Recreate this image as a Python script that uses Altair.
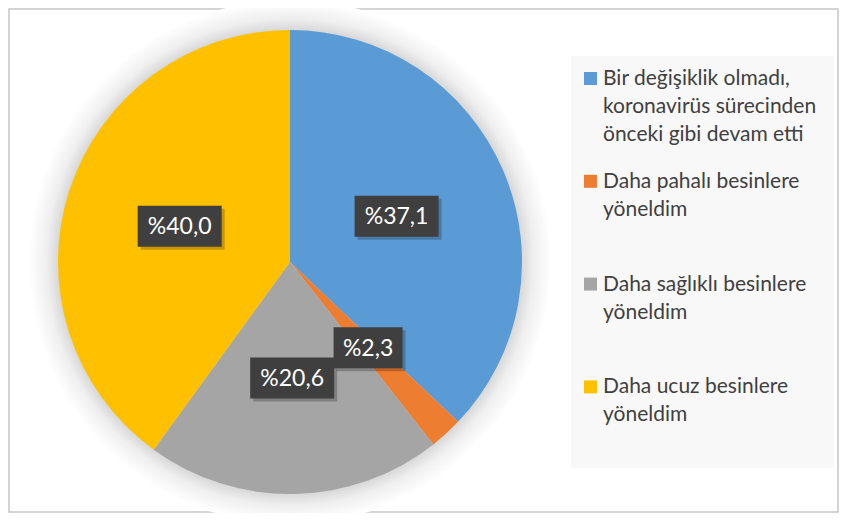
import math
import altair as alt
import pandas as pd

# ---- data -------------------------------------------------------------
categories = [
    "Bir değişiklik olmadı, koronavirüs sürecinden önceki gibi devam etti",
    "Daha pahalı besinlere yöneldim",
    "Daha sağlıklı besinlere yöneldim",
    "Daha ucuz besinlere yöneldim",
]
legend_lines = [
    ["Bir değişiklik olmadı,", "koronavirüs sürecinden", "önceki gibi devam etti"],
    ["Daha pahalı besinlere", "yöneldim"],
    ["Daha sağlıklı besinlere", "yöneldim"],
    ["Daha ucuz besinlere", "yöneldim"],
]
values = [37.1, 2.3, 20.6, 40.0]
value_labels = ["%37,1", "%2,3", "%20,6", "%40,0"]
colors = ["#5B9BD5", "#ED7D31", "#A5A5A5", "#FFC000"]

# ---- layout -----------------------------------------------------------
W, H = 829, 503
CX, CY, R = 281, 253, 232
LABEL_R = 116
LEG_X0, LEG_X1, LEG_Y0, LEG_Y1 = 562, 825, 47, 459
LEG_SYM_X, LEG_TXT_X = 581.5, 594
LEG_BASE0, LEG_STEP = 76, 102.8
FONT = "Lato"

df = pd.DataFrame({
    "cat": categories,
    "value": values,
    "label": value_labels,
    "order": list(range(len(categories))),
    "legend": ["\n".join(l) for l in legend_lines],
})

xs = alt.Scale(domain=[0, W], nice=False, zero=False)
ys = alt.Scale(domain=[0, H], nice=False, zero=False, reverse=True)
color = alt.Color("cat:N", scale=alt.Scale(domain=categories, range=colors), legend=None)

base = alt.Chart(df)

# soft glow around the pie
glow = alt.Chart(pd.DataFrame({"a": [0]})).mark_arc(
    outerRadius=R + 30, theta=0, theta2=2 * math.pi,
    color=alt.RadialGradient(
        gradient="radial",
        stops=[
            alt.GradientStop(color="#d8d8d8", offset=0),
            alt.GradientStop(color="#d8d8d8", offset=R / (R + 30)),
            alt.GradientStop(color="#efefef", offset=0.93),
            alt.GradientStop(color="#ffffff", offset=1),
        ],
    ),
).encode(x=alt.value(CX), y=alt.value(CY))

pie = base.mark_arc(outerRadius=R).encode(
    theta=alt.Theta("value:Q", stack=True),
    color=color,
    order=alt.Order("order:Q"),
    x=alt.value(CX),
    y=alt.value(CY),
)

lab = base.transform_window(
    cum="sum(value)", sort=[alt.SortField(field="order", order="ascending")], frame=[None, 0]
).transform_joinaggregate(total="sum(value)").transform_calculate(
    ang="2*PI*(datum.cum - datum.value/2)/datum.total",
    lx=f"{CX} + {LABEL_R}*sin(datum.ang)",
    ly=f"{CY} - {LABEL_R}*cos(datum.ang)",
    bw="15*length(datum.label) + 9",
    bx1="datum.lx - datum.bw/2",
    bx2="datum.lx + datum.bw/2",
    by1="datum.ly - 20.5",
    by2="datum.ly + 20.5",
    sx1="datum.bx1 + 3",
    sx2="datum.bx2 + 3",
    sy1="datum.by1 + 3",
    sy2="datum.by2 + 3",
)

shadow = lab.mark_rect(color="#000000", opacity=0.22).encode(
    x=alt.X("sx1:Q", scale=xs, axis=None), x2="sx2:Q",
    y=alt.Y("sy1:Q", scale=ys, axis=None), y2="sy2:Q",
)
box = lab.mark_rect(color="#3f3f3f").encode(
    x=alt.X("bx1:Q", scale=xs, axis=None), x2="bx2:Q",
    y=alt.Y("by1:Q", scale=ys, axis=None), y2="by2:Q",
)
txt = lab.mark_text(font=FONT, fontSize=23, color="#ffffff", align="center",
                    baseline="middle", dy=1).encode(
    x=alt.X("lx:Q", scale=xs, axis=None),
    y=alt.Y("ly:Q", scale=ys, axis=None),
    text="label:N",
)

# legend (drawn from the same categories / colour scale)
leg_bg = alt.Chart(pd.DataFrame({"a": [0]})).mark_rect(color="#f8f8f8").encode(
    x=alt.value(LEG_X0), x2=alt.value(LEG_X1), y=alt.value(LEG_Y0), y2=alt.value(LEG_Y1)
)
leg = base.transform_calculate(
    ty=f"{LEG_BASE0} + {LEG_STEP}*datum.order",
    sy=f"{LEG_BASE0} - 6.5 + {LEG_STEP}*datum.order",
)
leg_sym = leg.mark_square(size=169, opacity=1).encode(
    x=alt.value(LEG_SYM_X),
    y=alt.Y("sy:Q", scale=ys, axis=None),
    color=color,
)
leg_txt = leg.mark_text(font=FONT, fontSize=21, color="#404040", align="left",
                        baseline="alphabetic", lineBreak="\n", lineHeight=28).encode(
    x=alt.value(LEG_TXT_X),
    y=alt.Y("ty:Q", scale=ys, axis=None),
    text="legend:N",
)

chart = alt.layer(glow, pie, shadow, box, txt, leg_bg, leg_sym, leg_txt).properties(
    width=W, height=H,
    autosize=alt.AutoSizeParams(type="none"),
    padding=1,
    background="#ffffff",
).configure_view(stroke="#c6c6c6", strokeWidth=1.5)

chart.save("out.html", embed_options={"renderer": "svg", "actions": False})
